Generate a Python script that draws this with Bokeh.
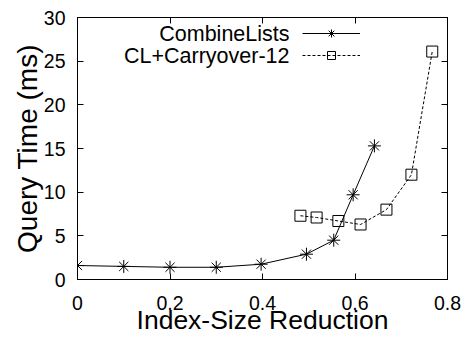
from bokeh.plotting import figure
from bokeh.models import (Range1d, LinearAxis, FixedTicker, Legend, LegendItem, Label,
                          CustomLabelingPolicy)
from bokeh.core.properties import value
from bokeh.embed import file_html
from bokeh.resources import INLINE

# data
cl_x = [0.0, 0.10, 0.20, 0.30, 0.397, 0.495, 0.554, 0.596, 0.642]
cl_y = [1.6, 1.5, 1.4, 1.4, 1.75, 2.9, 4.5, 9.7, 15.3]
co_x = [0.482, 0.517, 0.564, 0.612, 0.668, 0.722, 0.767]
co_y = [7.3, 7.1, 6.7, 6.3, 8.0, 12.0, 26.1]
series_names = ["CombineLists", "CL+Carryover-12"]
x_ticks = [0, 0.2, 0.4, 0.6, 0.8]
x_tick_labels = ["0", "0.2", "0.4", "0.6", "0.8"]
y_ticks = [0, 5, 10, 15, 20, 25, 30]
x_title = "Index-Size Reduction"
y_title = "Query Time (ms)"

FONT = "Liberation Sans"

p = figure(width=467, height=337, output_backend="svg", toolbar_location=None,
           x_range=Range1d(0, 0.8), y_range=Range1d(0, 30),
           min_border_left=77, min_border_right=20, min_border_top=17,
           min_border_bottom=58)
p.background_fill_color = "white"
p.border_fill_color = "white"
p.grid.visible = False
p.outline_line_color = "black"
p.outline_line_width = 1

hide_labels = CustomLabelingPolicy(code="""
try { for (const i of Array.from(indices)) { indices.unset(i) } } catch (e) {}
return indices
""")

def style_axis(ax, labels=True):
    ax.axis_line_color = "black"
    ax.major_tick_in = 6
    ax.major_tick_out = 0
    ax.minor_tick_line_color = None
    ax.major_tick_line_color = "black"
    ax.major_label_text_font = FONT
    ax.major_label_text_font_size = "19.5px"
    ax.major_label_text_color = "black"
    ax.axis_label_text_font = FONT
    ax.axis_label_text_font_style = "normal"
    ax.axis_label_text_color = "black"
    if not labels:
        ax.major_label_policy = hide_labels
        ax.major_label_text_font_size = "0px"
        ax.major_label_standoff = 0

xa = p.xaxis[0]
xa.ticker = FixedTicker(ticks=x_ticks)
xa.major_label_overrides = {t: l for t, l in zip(x_ticks, x_tick_labels)}
xa.axis_label = x_title
style_axis(xa)
xa.axis_label_text_font_size = "26.5px"
xa.major_label_standoff = 16
xa.axis_label_standoff = -8

ya = p.yaxis[0]
ya.ticker = FixedTicker(ticks=y_ticks)
ya.axis_label = y_title
style_axis(ya)
ya.axis_label_text_font_size = "28px"
ya.major_label_standoff = 12
ya.axis_label_standoff = -2

top = LinearAxis(ticker=FixedTicker(ticks=x_ticks))
style_axis(top, labels=False)
p.add_layout(top, "above")
right = LinearAxis(ticker=FixedTicker(ticks=y_ticks))
style_axis(right, labels=False)
p.add_layout(right, "right")

l1 = p.line(cl_x, cl_y, line_color="black", line_width=1)
s1 = p.scatter(cl_x, cl_y, marker="asterisk", size=13, line_color="black",
               line_width=1)
l2 = p.line(co_x, co_y, line_color="black", line_width=1, line_dash="3 2")
s2 = p.scatter(co_x, co_y, marker="square", size=11, line_color="black",
               fill_color=None, line_width=1)

legend = Legend(items=[LegendItem(label=value(""), renderers=[l1, s1]),
                       LegendItem(label=value(""), renderers=[l2, s2])],
                location=(225, 214), glyph_width=58, glyph_height=20,
                label_width=0, label_height=20, label_standoff=0,
                spacing=2, padding=0, margin=0,
                border_line_color=None, background_fill_alpha=0)
p.add_layout(legend, "center")

for name, yy in zip(series_names, [246, 224]):
    p.add_layout(Label(x=212, y=yy, x_units="screen", y_units="screen",
                       text=name, text_align="right", text_baseline="middle",
                       text_font=FONT, text_font_size="21.5px",
                       text_color="black"))

open("out.html", "w").write(file_html(p, INLINE))
